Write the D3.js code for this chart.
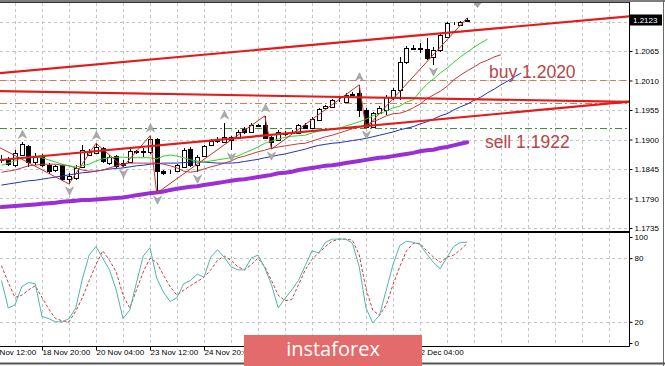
<!DOCTYPE html>
<html><head><meta charset="utf-8">
<script src="https://cdn.jsdelivr.net/npm/d3@7/dist/d3.min.js"></script>
<style>body{margin:0;background:#fff;overflow:hidden}text{font-family:"Liberation Sans",Arial,sans-serif}</style>
</head><body>
<svg id="c" width="665" height="366"></svg>
<script>
// ---------------- DATA (EURUSD H4) ----------------
const firstBar = -6; // bar index of first candle (bar 0 = 18 Nov 20:00)
const opens  = [1.1862,1.1862,1.1852,1.1871,1.1888,1.1858,1.1869,1.1852,1.1843,1.1852,1.1826,1.1828,1.1849,1.1871,1.1875,1.1884,1.1856,1.1869,1.1856,1.1858,1.1877,1.1877,1.1877,1.1901,1.1841,1.1839,1.1841,1.1849,1.1882,1.1852,1.1869,1.1890,1.1897,1.1895,1.1905,1.1903,1.1920,1.1914,1.1927,1.1927,1.1905,1.1899,1.1910,1.1912,1.1912,1.1927,1.1921,1.1936,1.1959,1.1961,1.1974,1.1970,1.1983,1.1987,1.1955,1.1923,1.1949,1.1955,1.1977,1.1992,1.2044,1.2071,1.2069,1.2069,1.2054,1.2067,1.2091,1.2115,1.2113,1.2121];
const highs  = [1.1871,1.1867,1.1880,1.1895,1.1890,1.1875,1.1873,1.1856,1.1852,1.1854,1.1838,1.1852,1.1890,1.1882,1.1893,1.1886,1.1871,1.1871,1.1862,1.1882,1.1880,1.1884,1.1907,1.1903,1.1843,1.1843,1.1854,1.1884,1.1886,1.1871,1.1890,1.1901,1.1905,1.1931,1.1907,1.1918,1.1923,1.1931,1.1929,1.1944,1.1907,1.1918,1.1916,1.1918,1.1929,1.1931,1.1942,1.1959,1.1964,1.1976,1.1977,1.1987,1.1989,1.2002,1.1959,1.1951,1.1962,1.1983,1.1996,1.2054,1.2074,1.2076,1.2080,1.2089,1.2072,1.2097,1.2119,1.2119,1.2121,1.2127];
const lows   = [1.1856,1.1851,1.1849,1.1869,1.1849,1.1852,1.1849,1.1836,1.1839,1.1823,1.1817,1.1825,1.1847,1.1869,1.1873,1.1856,1.1852,1.1847,1.1849,1.1856,1.1873,1.1867,1.1873,1.1800,1.1834,1.1836,1.1839,1.1847,1.1849,1.1839,1.1867,1.1888,1.1893,1.1893,1.1880,1.1901,1.1910,1.1912,1.1923,1.1901,1.1882,1.1897,1.1907,1.1910,1.1910,1.1920,1.1920,1.1935,1.1957,1.1959,1.1970,1.1968,1.1981,1.1942,1.1921,1.1921,1.1948,1.1946,1.1974,1.1974,1.2041,1.2067,1.2061,1.2048,1.2039,1.2063,1.2089,1.2113,1.2112,1.2119];
const closes = [1.1864,1.1854,1.1875,1.1892,1.1858,1.1867,1.1852,1.1841,1.1851,1.1826,1.1832,1.1847,1.1880,1.1877,1.1886,1.1860,1.1867,1.1851,1.1852,1.1879,1.1878,1.1879,1.1901,1.1841,1.1838,1.1840,1.1852,1.1880,1.1852,1.1867,1.1888,1.1897,1.1899,1.1905,1.1899,1.1914,1.1914,1.1927,1.1926,1.1903,1.1895,1.1914,1.1912,1.1914,1.1927,1.1921,1.1938,1.1957,1.1962,1.1974,1.1973,1.1983,1.1985,1.1955,1.1923,1.1949,1.1959,1.1979,1.1992,1.2044,1.2071,1.2069,1.2070,1.2052,1.2067,1.2095,1.2117,1.2116,1.2119,1.2123];

// Alligator lines as plotted (already shifted forward), starting at firstBar
const jaw   = [1.1815,1.1817,1.1819,1.1821,1.1823,1.1824,1.1826,1.1828,1.1830,1.1832,1.1834,1.1836,1.1838,1.1839,1.1841,1.1843,1.1845,1.1846,1.1847,1.1849,1.1851,1.1852,1.1854,1.1855,1.1856,1.1856,1.1856,1.1857,1.1858,1.1858,1.1858,1.1857,1.1856,1.1856,1.1856,1.1857,1.1859,1.1861,1.1863,1.1866,1.1868,1.1871,1.1873,1.1876,1.1879,1.1882,1.1886,1.1889,1.1891,1.1893,1.1894,1.1896,1.1898,1.1900,1.1902,1.1905,1.1908,1.1911,1.1914,1.1918,1.1921,1.1924,1.1929,1.1933,1.1938,1.1944,1.1948,1.1955,1.1961,1.1966,1.1973,1.1979,1.1987,1.1994,1.2002,1.2009,1.2017,1.2024];
const teeth = [1.1839,1.1841,1.1843,1.1847,1.1851,1.1852,1.1854,1.1854,1.1854,1.1852,1.1851,1.1847,1.1843,1.1841,1.1841,1.1843,1.1847,1.1851,1.1854,1.1856,1.1856,1.1856,1.1856,1.1856,1.1854,1.1851,1.1847,1.1841,1.1839,1.1841,1.1845,1.1849,1.1852,1.1856,1.1860,1.1866,1.1869,1.1873,1.1877,1.1880,1.1884,1.1886,1.1888,1.1890,1.1892,1.1893,1.1897,1.1901,1.1905,1.1908,1.1912,1.1916,1.1920,1.1923,1.1927,1.1933,1.1938,1.1944,1.1948,1.1949,1.1953,1.1959,1.1966,1.1976,1.1983,1.1990,1.1999,1.2011,1.2020,1.2028,1.2035,1.2043,1.2048,1.2054,1.2058];
const lips  = [1.1852,1.1856,1.1860,1.1866,1.1867,1.1867,1.1866,1.1862,1.1858,1.1854,1.1851,1.1849,1.1851,1.1854,1.1860,1.1864,1.1866,1.1867,1.1867,1.1866,1.1866,1.1866,1.1866,1.1864,1.1869,1.1871,1.1869,1.1866,1.1862,1.1860,1.1858,1.1860,1.1862,1.1864,1.1866,1.1869,1.1875,1.1880,1.1886,1.1893,1.1897,1.1901,1.1904,1.1906,1.1907,1.1908,1.1912,1.1916,1.1918,1.1920,1.1921,1.1925,1.1929,1.1933,1.1938,1.1944,1.1948,1.1953,1.1959,1.1962,1.1970,1.1974,1.1989,1.2003,1.2013,1.2024,1.2033,1.2044,1.2054,1.2063,1.2072,1.2080,1.2087];
const slowMA = [1.1774,1.1775,1.1776,1.1777,1.1778,1.1779,1.1780,1.1781,1.1782,1.1784,1.1785,1.1786,1.1787,1.1787,1.1788,1.1789,1.1790,1.1791,1.1792,1.1794,1.1796,1.1798,1.1800,1.1801,1.1803,1.1806,1.1808,1.1810,1.1812,1.1813,1.1815,1.1817,1.1819,1.1821,1.1823,1.1825,1.1826,1.1828,1.1830,1.1832,1.1834,1.1837,1.1838,1.1840,1.1843,1.1845,1.1847,1.1849,1.1851,1.1852,1.1854,1.1856,1.1858,1.1860,1.1862,1.1864,1.1866,1.1867,1.1869,1.1871,1.1873,1.1875,1.1878,1.1880,1.1881,1.1884,1.1886,1.1889,1.1892,1.1895];

// Stochastic oscillator
const stochMain   = [59,33,36,53,57,56,25,23,20,20,23,33,61,83,91,80,69,50,23,31,57,82,90,61,48,39,43,56,59,65,62,81,88,81,72,69,69,80,83,71,55,33,42,50,59,73,87,85,95,98,98,98,94,72,33,19,26,50,74,92,96,95,93,84,76,70,81,91,95,95];
const stochSignal = [73,57,43,45,50,54,43,32,23,21,20,30,43,59,74,87,78,67,45,33,50,67,80,76,64,53,45,50,54,58,62,69,78,82,78,72,69,74,80,72,59,45,40,41,55,69,79,85,91,96,98,98,97,83,51,31,26,36,55,72,87,94,94,87,81,76,81,83,88,94];

// ZigZag vertices and fractals
const zigBars   = [-9,4,8,12,16,17,33,34,47,48,63];
const zigPrices = [1.1903,1.1817,1.1893,1.1849,1.1907,1.1800,1.1944,1.1882,1.2002,1.1921,1.2127];
const fractalUp   = [-3,8,16,27,33,47];
const fractalDown = [4,12,17,23,28,34,48,58];

// Trend lines (two anchors each) and horizontal levels
const trendBars  = [-6, 60];
const trendUpper = [1.2024, 1.2099];
const trendMid   = [1.1990, 1.1976];
const trendLower = [1.1862, 1.1939];
const buyLevel = 1.2010, midLevel = 1.1968, sellLevel = 1.1922;
const buyText = "buy 1.2020", sellText = "sell 1.1922";

// Axes
const priceTicks = [1.1735,1.1790,1.1845,1.1900,1.1955,1.2010,1.2065,1.2120];
const stochTicks = [0,20,80,100];
const stochLevels = [20,80];
const timeBars   = [-8,0,8,16,24,32,40,48,56];
const timeLabels = ["17 Nov 12:00","18 Nov 20:00","20 Nov 04:00","23 Nov 12:00","24 Nov 20:00","26 Nov 04:00","27 Nov 12:00","30 Nov 20:00","2 Dec 04:00"];

// ---------------- DRAW ----------------
const svg = d3.select("#c");
const PR = 629, MT = 3, MB = 231, ST = 232, SB = 346;
const WM = {x:244, y:335, w:178, h:31}; // watermark box
const x = d3.scaleLinear().domain([-6.222, 86.963]).range([0, PR]);
const y = d3.scaleLinear().domain([1.1735, 1.2120]).range([228, 21.5]);
const ys = d3.scaleLinear().domain([0, 100]).range([343, 237]);
const px = n => Math.round(x(n)) + 0.5;
const last = closes[closes.length-1];

const defs = svg.append("defs");
defs.append("clipPath").attr("id","cm").append("rect").attr("x",0).attr("y",MT).attr("width",PR).attr("height",MB-MT);
defs.append("clipPath").attr("id","cs").append("rect").attr("x",0).attr("y",ST).attr("width",PR).attr("height",SB-ST);

svg.append("rect").attr("width",665).attr("height",366).attr("fill","#fff");

const main = svg.append("g").attr("clip-path","url(#cm)");
const sto = svg.append("g").attr("clip-path","url(#cs)");

// grid
const gridBars = d3.range(-4, 87, 4);
[main, sto].forEach((g, k) => {
  g.append("g").selectAll("line").data(gridBars).join("line")
    .attr("x1", d => px(d)).attr("x2", d => px(d))
    .attr("y1", k ? ST : MT).attr("y2", k ? SB : MB)
    .attr("stroke","#c4c4c4").attr("stroke-dasharray","3,3").attr("shape-rendering","crispEdges");
});
main.append("g").selectAll("line").data(priceTicks).join("line")
  .attr("x1",0).attr("x2",PR).attr("y1",d=>Math.round(y(d))+0.5).attr("y2",d=>Math.round(y(d))+0.5)
  .attr("stroke","#c4c4c4").attr("stroke-dasharray","3,3").attr("shape-rendering","crispEdges");
sto.append("g").selectAll("line").data(stochLevels).join("line")
  .attr("x1",0).attr("x2",PR).attr("y1",d=>Math.round(ys(d))+0.5).attr("y2",d=>Math.round(ys(d))+0.5)
  .attr("stroke","#c4c4c4").attr("stroke-dasharray","3,3").attr("shape-rendering","crispEdges");

// horizontal levels
const hl = (p, col, dash) => main.append("line").attr("x1",0).attr("x2",PR)
  .attr("y1",Math.round(y(p))+0.5).attr("y2",Math.round(y(p))+0.5)
  .attr("stroke",col).attr("stroke-width",1).attr("stroke-dasharray",dash);
hl(buyLevel, "#e0784e", "6,4");
hl(midLevel, "#e0784e", "7,3,2,3");
hl(sellLevel, "#3f8f3f", "7,3,2,3");

// candles
const bars = opens.map((o,i)=>({n:firstBar+i,o,h:highs[i],l:lows[i],c:closes[i]}));
const cg = main.append("g");
cg.selectAll("line").data(bars).join("line")
  .attr("x1",d=>px(d.n)).attr("x2",d=>px(d.n))
  .attr("y1",d=>Math.round(y(d.h))).attr("y2",d=>Math.round(y(d.l)))
  .attr("stroke","#000");
cg.selectAll("rect").data(bars).join("rect")
  .attr("x",d=>px(d.n)-2).attr("width",4)
  .attr("y",d=>Math.round(Math.min(y(d.o),y(d.c)))+0.5)
  .attr("height",d=>Math.max(0,Math.round(Math.max(y(d.o),y(d.c)))-Math.round(Math.min(y(d.o),y(d.c)))))
  .attr("fill",d=>d.c>=d.o?"#fff":"#000").attr("stroke","#000");

// indicator lines
const lineOf = (arr, start, sc) => d3.line().x((d,i)=>x(start+i)).y(d=>sc(d))(arr);
main.append("path").attr("d",lineOf(slowMA,firstBar,y)).attr("fill","none").attr("stroke","#9a2fd6").attr("stroke-width",4).attr("stroke-linecap","round");
main.append("path").attr("d",lineOf(jaw,firstBar,y)).attr("fill","none").attr("stroke","#2233bb").attr("stroke-width",1);
main.append("path").attr("d",lineOf(teeth,firstBar,y)).attr("fill","none").attr("stroke","#c43a3a").attr("stroke-width",1);
main.append("path").attr("d",lineOf(lips,firstBar,y)).attr("fill","none").attr("stroke","#2bd62b").attr("stroke-width",1);
main.append("path").attr("d",d3.line().x((d,i)=>x(zigBars[i])).y(d=>y(d))(zigPrices))
  .attr("fill","none").attr("stroke","#d42a2a").attr("stroke-width",1);

// fractals
const fr = main.append("g").attr("fill","#acacac").attr("stroke","#919191").attr("stroke-width",0.6);
fractalUp.forEach(n => {
  const cx = px(n), t = y(highs[n-firstBar]) - 12;
  fr.append("path").attr("d",`M${cx},${t}L${cx+4},${t+8}L${cx},${t+5.5}L${cx-4},${t+8}Z`);
});
fractalDown.forEach(n => {
  const cx = px(n), t = y(lows[n-firstBar]) + 11;
  fr.append("path").attr("d",`M${cx},${t}L${cx+4},${t-8}L${cx},${t-5.5}L${cx-4},${t-8}Z`);
});

// trend lines (extended across the pane)
const d0 = x.domain()[0], d1 = x.domain()[1];
[trendUpper, trendMid, trendLower].forEach(tp => {
  const k = (tp[1]-tp[0])/(trendBars[1]-trendBars[0]);
  main.append("line")
    .attr("x1",x(d0)).attr("y1",y(tp[0]+k*(d0-trendBars[0])))
    .attr("x2",x(d1)).attr("y2",y(tp[0]+k*(d1-trendBars[0])))
    .attr("stroke","#e41b1b").attr("stroke-width",2.2);
});

// texts
main.append("text").attr("x",489).attr("y",78).attr("font-size",17.5).attr("fill","#b5474a").text(buyText);
main.append("text").attr("x",485).attr("y",148).attr("font-size",17.5).attr("fill","#b5474a").text(sellText);

// chart shift marker
svg.append("path").attr("d",`M${x(64.5)-4},3L${x(64.5)+4},3L${x(64.5)},8Z`).attr("fill","#a0a0a0");

// stochastic
sto.append("path").attr("d",lineOf(stochSignal,firstBar,ys)).attr("fill","none").attr("stroke","#d0393f").attr("stroke-width",1).attr("stroke-dasharray","3,2");
sto.append("path").attr("d",lineOf(stochMain,firstBar,ys)).attr("fill","none").attr("stroke","#4db7ab").attr("stroke-width",1);

// pane borders
svg.append("rect").attr("x",0).attr("y",0).attr("width",665).attr("height",2).attr("fill","#7c7c7c");
svg.append("line").attr("x1",0).attr("x2",PR).attr("y1",2.5).attr("y2",2.5).attr("stroke","#333");
svg.append("line").attr("x1",PR+0.5).attr("x2",PR+0.5).attr("y1",2).attr("y2",SB+0.5).attr("stroke","#000");
svg.append("line").attr("x1",0).attr("x2",PR).attr("y1",MB+0.5).attr("y2",MB+0.5).attr("stroke","#000");
svg.append("line").attr("x1",0).attr("x2",PR).attr("y1",ST+0.5).attr("y2",ST+0.5).attr("stroke","#000");
svg.append("line").attr("x1",0).attr("x2",PR+0.5).attr("y1",SB+0.5).attr("y2",SB+0.5).attr("stroke","#000");
svg.append("line").attr("x1",663.5).attr("x2",663.5).attr("y1",0).attr("y2",366).attr("stroke","#6a6a6a");
svg.append("line").attr("x1",0).attr("x2",665).attr("y1",363.5).attr("y2",363.5).attr("stroke","#555").attr("stroke-width",2);

// axes (labels hidden behind the price box / watermark are not drawn, as in the reference)
const fmt = d3.format(".4f");
const ya = svg.append("g").attr("transform",`translate(${PR+0.5},0)`)
  .call(d3.axisRight(y).tickValues(priceTicks).tickSize(3)
    .tickFormat(d => Math.abs(y(d)-y(last)) < 9 ? "" : fmt(d)));
ya.select(".domain").remove();
ya.selectAll("text").attr("x",5).attr("font-size",8).attr("font-family","Liberation Sans, Arial").attr("fill","#000");

const sa = svg.append("g").attr("transform",`translate(${PR+0.5},0)`)
  .call(d3.axisRight(ys).tickValues(stochTicks).tickSize(3));
sa.select(".domain").remove();
sa.selectAll("text").attr("x",5).attr("font-size",8).attr("font-family","Liberation Sans, Arial").attr("fill","#000");

const hidden = n => px(n) > WM.x && px(n) + 48 < WM.x + WM.w;
const xa = svg.append("g").attr("transform",`translate(0,${SB+0.5})`)
  .call(d3.axisBottom(x).tickValues(timeBars).tickSize(4)
    .tickFormat((d,i)=> hidden(d) ? "" : timeLabels[i]));
xa.select(".domain").remove();
xa.selectAll(".tick").attr("transform", d => `translate(${px(d)},0)`);
xa.selectAll("text").attr("text-anchor","start").attr("x",0).attr("y",3).attr("font-size",8).attr("font-family","Liberation Sans, Arial").attr("fill","#000");

// current price box
svg.append("rect").attr("x",PR+1).attr("y",Math.round(y(last))-5.5).attr("width",32).attr("height",11).attr("fill","#000");
svg.append("text").attr("x",PR+4).attr("y",y(last)).attr("dy","0.34em").attr("font-size",8).attr("fill","#fff").text(fmt(last));

// watermark
svg.append("rect").attr("x",WM.x).attr("y",WM.y).attr("width",WM.w).attr("height",WM.h).attr("fill","#e46b6b");
svg.append("text").attr("x",WM.x+WM.w/2).attr("y",356).attr("text-anchor","middle").attr("font-size",20)
  .attr("style","font-family:'Open Sans','Noto Sans',sans-serif").attr("fill","#fff").text("instaforex");
</script>
</body></html>
